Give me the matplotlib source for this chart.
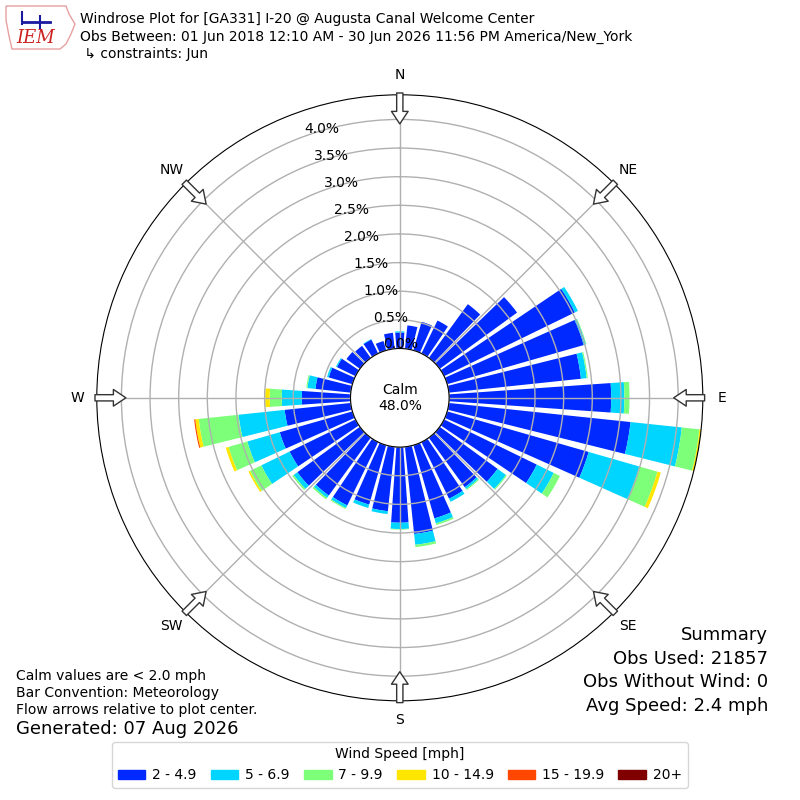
import numpy as np
import matplotlib
matplotlib.use("Agg")
from matplotlib import pyplot as plt
from matplotlib.patches import Rectangle, Polygon

# Data (percent of observations), directions every 10 degrees
directions = np.arange(0, 360, 10)
speed_bins = ["2 - 4.9", "5 - 6.9", "7 - 9.9", "10 - 14.9", "15 - 19.9", "20+"]
calm_pct = 48.0

s_2_5 = [0.28, 0.41, 0.52, 0.64, 1.16, 1.67, 2.54, 2.48, 2.32, 2.83, 3.19, 2.57,
         1.80, 1.25, 1.07, 1.10, 1.33, 1.53, 1.32, 1.13, 1.08, 1.23, 1.25, 1.35,
         1.28, 1.32, 1.16, 0.85, 0.62, 0.43, 0.36, 0.29, 0.26, 0.27, 0.17, 0.28]
s_5_7 = [0.02, 0.00, 0.00, 0.00, 0.00, 0.00, 0.06, 0.04, 0.10, 0.23, 0.90, 0.92,
         0.33, 0.18, 0.04, 0.06, 0.09, 0.19, 0.11, 0.05, 0.06, 0.05, 0.05, 0.08,
         0.55, 0.59, 0.81, 0.35, 0.14, 0.03, 0.02, 0.00, 0.00, 0.01, 0.00, 0.00]
s_7_10 = [0.00, 0.00, 0.00, 0.00, 0.00, 0.00, 0.00, 0.01, 0.02, 0.09, 0.31, 0.33,
          0.12, 0.02, 0.02, 0.00, 0.03, 0.04, 0.01, 0.00, 0.00, 0.02, 0.03, 0.03,
          0.22, 0.34, 0.70, 0.21, 0.02, 0.00, 0.00, 0.00, 0.00, 0.00, 0.00, 0.00]
s_10_15 = [0.00, 0.00, 0.00, 0.00, 0.00, 0.00, 0.00, 0.00, 0.00, 0.00, 0.03, 0.06,
           0.00, 0.00, 0.00, 0.00, 0.00, 0.00, 0.00, 0.00, 0.00, 0.00, 0.00, 0.00,
           0.03, 0.05, 0.06, 0.08, 0.00, 0.00, 0.00, 0.00, 0.00, 0.00, 0.00, 0.00]
s_15_20 = [0.00] * 26 + [0.02] + [0.00] * 9
s_20 = [0.00] * 36

summary = ["Summary", "Obs Used: 21857", "Obs Without Wind: 0", "Avg Speed: 2.4 mph"]

vstack = np.vstack([s_2_5, s_5_7, s_7_10, s_10_15, s_15_20, s_20])
totals = vstack.sum(axis=0)
rmax = totals.max()
rorigin = 0.1943 * rmax

mycolors = plt.get_cmap("jet")(np.arange(1, 7) / 6.0)

fig = plt.figure(figsize=(8, 8), dpi=100)
ax = fig.add_axes([0.121, 0.124, 0.7575, 0.7575], projection="polar")
ax.set_theta_zero_location("N")
ax.set_theta_direction(-1)

theta = np.deg2rad(directions)
width = np.deg2rad(10) * 0.8
bottom = np.zeros(len(directions))
for i, row in enumerate(vstack):
    ax.bar(theta, row, width=width, bottom=bottom, color=mycolors[i],
           linewidth=0, zorder=1)
    bottom += row

ax.set_rlim(0, rmax)
ax.set_rorigin(-rorigin)
ax.set_rticks(np.arange(0, 4.01, 0.5))
ax.set_yticklabels(["%.1f%%" % v for v in np.arange(0, 4.01, 0.5)], fontsize=10)
ax.set_rlabel_position(340)
ax.set_thetagrids(np.arange(0, 360, 45),
                  ["N", "NE", "E", "SE", "S", "SW", "W", "NW"], fontsize=10)
ax.tick_params(axis="x", pad=3.5)
ax.grid(True, color="#b0b0b0", linewidth=1)

# Calm in the middle
ax.text(0.5, 0.5, "Calm\n%.1f%%" % calm_pct, transform=ax.transAxes,
        ha="center", va="center", fontsize=10, zorder=5)

# Flow arrows at the edge pointing to center
for d in np.arange(0, 360, 45):
    a = np.deg2rad(d)
    tail = (0.5 + 0.503 * np.sin(a), 0.5 + 0.503 * np.cos(a))
    tip = (0.5 + 0.452 * np.sin(a), 0.5 + 0.452 * np.cos(a))
    ax.annotate("", xy=tip, xycoords="axes fraction", xytext=tail,
                textcoords="axes fraction", annotation_clip=False,
                arrowprops=dict(facecolor="white", edgecolor="#333333",
                                width=4.5, headwidth=12, headlength=9,
                                shrink=0, linewidth=1), zorder=6)

# Header
fig.text(0.1, 0.976, "Windrose Plot for [GA331] I-20 @ Augusta Canal Welcome Center",
         fontsize=10, va="center")
fig.text(0.1, 0.954, "Obs Between: 01 Jun 2018 12:10 AM - 30 Jun 2026 11:56 PM America/New_York",
         fontsize=10, va="center")
fig.text(0.1, 0.932, " \u21b3 constraints: Jun", fontsize=10, va="center")

# rough IEM logo
outline = np.array([[6, 6], [66, 6], [69, 14], [75, 24], [71, 34], [66, 44],
                    [60, 49], [12, 49], [9, 36], [6, 20]])
outline = np.column_stack([outline[:, 0] / 800.0, 1 - outline[:, 1] / 800.0])
fig.add_artist(Polygon(outline, closed=True, fill=False, edgecolor="#e8a0a0",
                       linewidth=1, transform=fig.transFigure))
fig.add_artist(plt.Line2D([22 / 800, 50 / 800], [1 - 22 / 800, 1 - 22 / 800],
                          color="#1a1aa0", linewidth=2, transform=fig.transFigure))
fig.add_artist(plt.Line2D([22 / 800, 22 / 800], [1 - 12 / 800, 1 - 24 / 800],
                          color="#1a1aa0", linewidth=1.5, transform=fig.transFigure))
fig.add_artist(plt.Line2D([40 / 800, 40 / 800], [1 - 16 / 800, 1 - 28 / 800],
                          color="#1a1aa0", linewidth=1.5, transform=fig.transFigure))
fig.text(0.045, 0.953, "IEM", fontsize=13, color="#cc2222", style="italic",
         family="DejaVu Serif", ha="center", va="center")

# Footer notes
fig.text(0.02, 0.155, "Calm values are < 2.0 mph", fontsize=10, va="center")
fig.text(0.02, 0.134, "Bar Convention: Meteorology", fontsize=10, va="center")
fig.text(0.02, 0.113, "Flow arrows relative to plot center.", fontsize=10, va="center")
fig.text(0.02, 0.089, "Generated: 07 Aug 2026", fontsize=13, va="center")
for i, s in enumerate(summary):
    fig.text(0.96, 0.206 - i * 0.0293, s, fontsize=13, ha="right", va="center")

handles = [Rectangle((0, 0), 1, 1, color=c) for c in mycolors]
fig.legend(handles, speed_bins, loc="center", bbox_to_anchor=(0.5, 0.044),
           ncol=6, fontsize=10, title="Wind Speed [mph]", title_fontsize=10,
           columnspacing=1.0, handletextpad=0.5)

fig.savefig("out.png", dpi=100)
